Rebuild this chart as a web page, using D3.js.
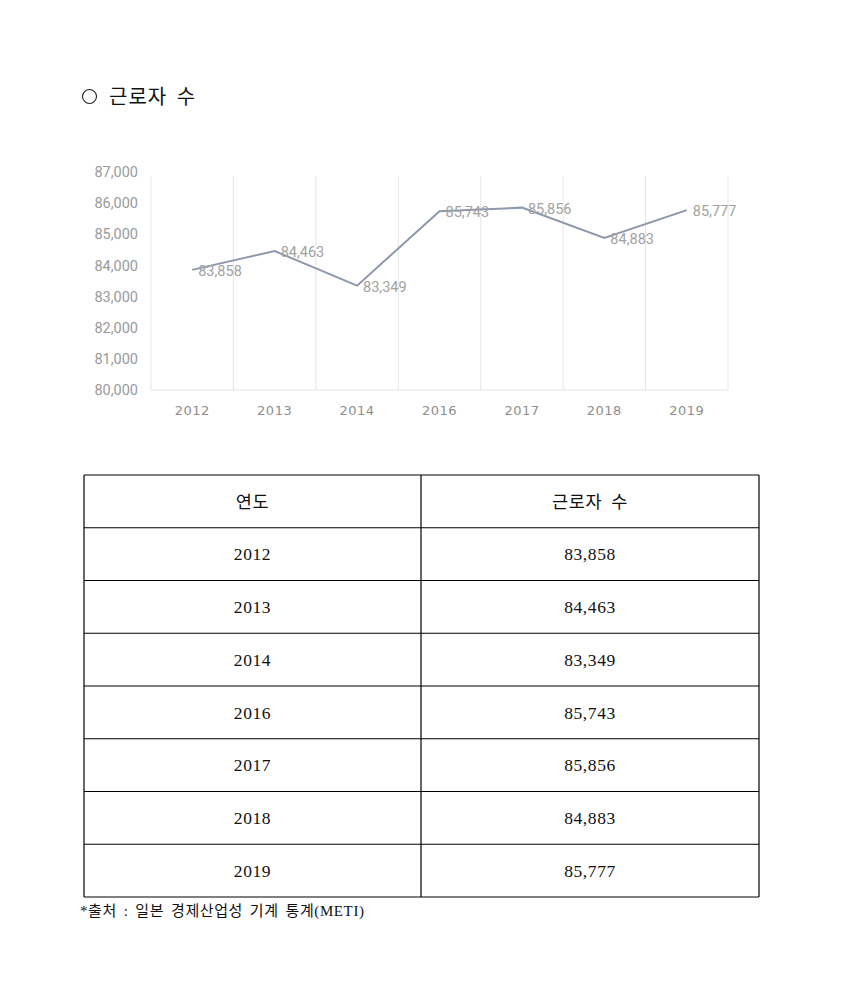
<!DOCTYPE html>
<html>
<head>
<meta charset="utf-8">
<script src="https://cdn.jsdelivr.net/npm/d3@7"></script>
<style>
  body { margin: 0; background: #fff; }
</style>
</head>
<body>
<div class="chart"></div>
<script>
const years   = ['2012', '2013', '2014', '2016', '2017', '2018', '2019'];
const workers = [83858, 84463, 83349, 85743, 85856, 84883, 85777];
const yTicks  = [80000, 81000, 82000, 83000, 84000, 85000, 86000, 87000];
const headers = ['연도', '근로자 수'];

const titleText  = '근로자 수';
const sourceText = '*출처 : 일본 경제산업성 기계 통계(METI)';

const svgSize = { width: 844, height: 1005 };
const plot = { left: 151, right: 728, top: 172, bottom: 390 };

const svg = d3.select('.chart')
    .append('svg')
    .attr('width', svgSize.width)
    .attr('height', svgSize.height)
;

const fmt = d3.format(',');
const sans = "'Noto Sans CJK KR', 'Noto Sans', sans-serif";
const serif = "'Liberation Serif', 'Noto Sans CJK KR', serif";

// title with hollow bullet
svg.append('circle')
    .attr('cx', 89.5)
    .attr('cy', 96.5)
    .attr('r', 7)
    .attr('fill', 'none')
    .attr('stroke', '#222')
    .attr('stroke-width', 1.1)
;
svg.append('text')
    .attr('x', 109)
    .attr('y', 104)
    .attr('font-family', sans)
    .attr('font-size', 20)
    .attr('letter-spacing', 1)
    .attr('word-spacing', 4)
    .attr('fill', '#111')
    .text(titleText)
;

// scales
const xScale = d3.scaleBand()
    .domain(years)
    .range([plot.left, plot.right])
;
const yScale = d3.scaleLinear()
    .domain([80000, 87000])
    .range([plot.bottom, plot.top])
;

const graph = svg.append('g');

// vertical grid lines at band edges
const edges = years.map(y => xScale(y)).concat([plot.right]);
graph.selectAll('.vgrid')
    .data(edges)
    .enter()
    .append('line')
    .attr('class', 'vgrid')
    .attr('x1', d => d)
    .attr('x2', d => d)
    .attr('y1', plot.top + 4)
    .attr('y2', plot.bottom)
    .attr('stroke', '#e6e6e6')
    .attr('stroke-width', 1)
;
graph.append('line')
    .attr('x1', plot.left)
    .attr('x2', plot.right)
    .attr('y1', plot.bottom)
    .attr('y2', plot.bottom)
    .attr('stroke', '#e3e3e3')
;

// y axis
const yAxis = d3.axisLeft(yScale).tickValues(yTicks).tickFormat(fmt).tickSize(0).tickPadding(13);
const yAxisGroup = svg.append('g')
    .attr('transform', `translate(${plot.left}, 0)`)
    .call(yAxis)
;
yAxisGroup.select('.domain').remove();
yAxisGroup.selectAll('text')
    .attr('font-family', "Roboto, 'Noto Sans', sans-serif")
    .attr('font-size', 14.5)
    .attr('fill', '#9a9a9a')
;

// x axis
const xAxis = d3.axisBottom(xScale).tickSize(0).tickPadding(16);
const xAxisGroup = svg.append('g')
    .attr('transform', `translate(0, ${plot.bottom})`)
    .call(xAxis)
;
xAxisGroup.select('.domain').remove();
xAxisGroup.selectAll('text')
    .attr('font-family', "'DejaVu Sans', sans-serif")
    .attr('font-size', 13)
    .attr('letter-spacing', 0.5)
    .attr('fill', '#8e8e8e')
;

// line
const points = years.map((y, i) => ({ year: y, value: workers[i] }));
const line = d3.line()
    .x(d => xScale(d.year) + xScale.bandwidth() / 2)
    .y(d => yScale(d.value))
;
graph.append('path')
    .datum(points)
    .attr('d', line)
    .attr('fill', 'none')
    .attr('stroke', '#8d98ae')
    .attr('stroke-width', 2)
;

// data labels
graph.selectAll('.lbl')
    .data(points)
    .enter()
    .append('text')
    .attr('class', 'lbl')
    .attr('x', d => xScale(d.year) + xScale.bandwidth() / 2 + 6)
    .attr('y', d => yScale(d.value) + 6)
    .attr('font-family', "Roboto, 'Noto Sans', sans-serif")
    .attr('font-size', 14.5)
    .attr('fill', '#a2a2a2')
    .text(d => fmt(d.value))
;

// table
const table = { left: 84, right: 759, mid: 421, top: 475, rowH: 52.75 };
const rows = [headers].concat(points.map(d => [d.year, fmt(d.value)]));
const rowScale = d3.scaleLinear()
    .domain([0, rows.length])
    .range([table.top, table.top + rows.length * table.rowH])
;
const tg = svg.append('g');
tg.selectAll('.hline')
    .data(d3.range(rows.length + 1))
    .enter()
    .append('line')
    .attr('x1', table.left)
    .attr('x2', table.right)
    .attr('y1', d => rowScale(d))
    .attr('y2', d => rowScale(d))
    .attr('stroke', '#000')
    .attr('stroke-width', 1.2)
;
tg.selectAll('.vline')
    .data([table.left, table.mid, table.right])
    .enter()
    .append('line')
    .attr('x1', d => d)
    .attr('x2', d => d)
    .attr('y1', rowScale(0))
    .attr('y2', rowScale(rows.length))
    .attr('stroke', '#000')
    .attr('stroke-width', 1.2)
;
const rowG = tg.selectAll('.row')
    .data(rows)
    .enter()
    .append('g')
    .attr('transform', (d, i) => `translate(0, ${rowScale(i) + table.rowH / 2})`)
;
rowG.selectAll('text')
    .data(d => d)
    .enter()
    .append('text')
    .attr('x', (d, i) => i === 0 ? (table.left + table.mid) / 2 : (table.mid + table.right) / 2)
    .attr('dy', '0.35em')
    .attr('text-anchor', 'middle')
    .attr('font-family', serif)
    .attr('font-size', 17.5)
    .attr('letter-spacing', 0.6)
    .attr('word-spacing', 4)
    .attr('fill', '#111')
    .text(d => d)
;

// source note
svg.append('text')
    .attr('x', 80)
    .attr('y', 916)
    .attr('font-family', serif)
    .attr('font-size', 15)
    .attr('letter-spacing', 0.6)
    .attr('word-spacing', 2.5)
    .attr('fill', '#111')
    .text(sourceText)
;
</script>
</body>
</html>
